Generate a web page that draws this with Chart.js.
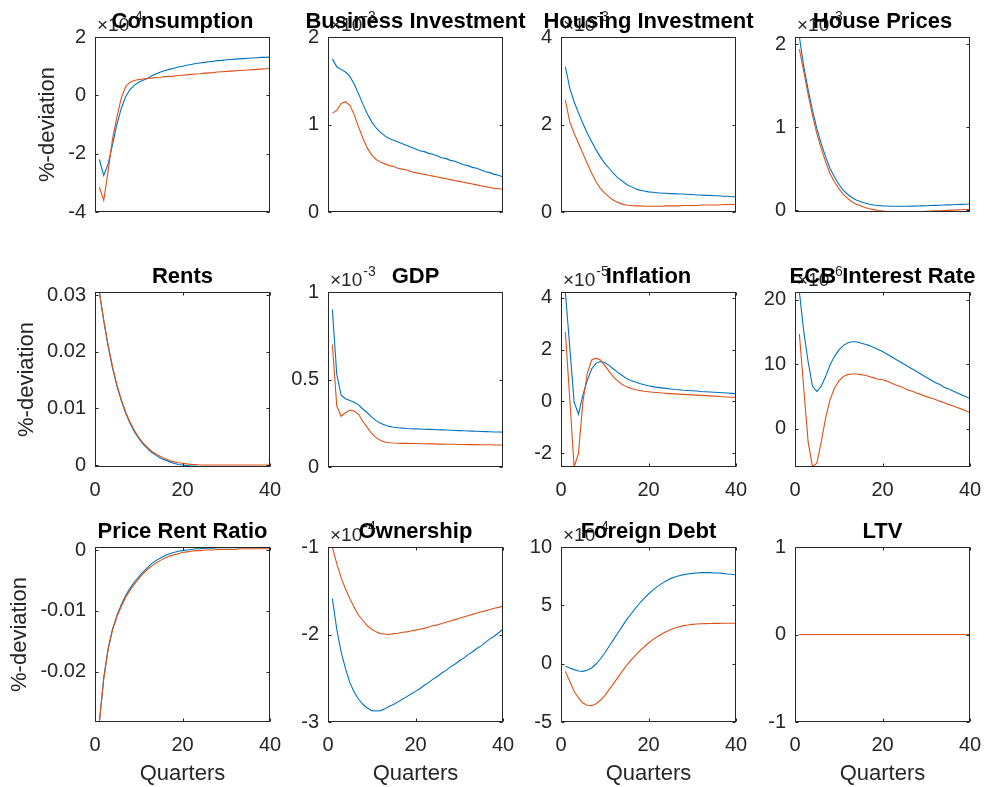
<!DOCTYPE html>
<html>
<head>
<meta charset="utf-8">
<script src="https://cdn.jsdelivr.net/npm/chart.js@4.4.0/dist/chart.umd.min.js"></script>
<style>
  body { margin: 0; background: #fff; }
  #fig { position: relative; width: 986px; height: 787px; overflow: hidden; background: #fff; }
  #fig canvas { position: absolute; }
</style>
</head>
<body>
<div id="fig"></div>
<script>
const quarters = [1,2,3,4,5,6,7,8,9,10,11,12,13,14,15,16,17,18,19,20,21,22,23,24,25,26,27,28,29,30,31,32,33,34,35,36,37,38,39,40];

// values are in the units shown on each axis (i.e. already multiplied by the x10^n factor)
const consumptionBlue = [-2.2,-2.75,-2.35,-1.7,-1.0,-0.45,-0.05,0.2,0.35,0.45,0.52,0.58,0.67,0.74,0.8,0.85,0.89,0.93,0.97,1.0,1.03,1.06,1.09,1.11,1.13,1.15,1.17,1.19,1.2,1.22,1.23,1.24,1.25,1.26,1.27,1.28,1.29,1.3,1.3,1.31];
const consumptionRed = [-3.15,-3.6,-2.6,-1.5,-0.75,-0.1,0.3,0.45,0.51,0.54,0.56,0.58,0.59,0.61,0.62,0.64,0.65,0.66,0.68,0.69,0.7,0.72,0.73,0.74,0.76,0.77,0.78,0.8,0.81,0.82,0.83,0.84,0.85,0.86,0.87,0.88,0.89,0.9,0.91,0.92];

const bizInvBlue = [1.75,1.66,1.63,1.6,1.55,1.46,1.35,1.23,1.12,1.03,0.96,0.91,0.87,0.84,0.82,0.8,0.78,0.76,0.74,0.72,0.7,0.69,0.67,0.66,0.64,0.62,0.61,0.59,0.58,0.56,0.54,0.53,0.51,0.5,0.48,0.46,0.45,0.43,0.42,0.4];
const bizInvRed = [1.13,1.16,1.24,1.26,1.22,1.11,0.97,0.84,0.73,0.65,0.6,0.57,0.55,0.53,0.52,0.5,0.49,0.48,0.46,0.45,0.44,0.43,0.42,0.41,0.4,0.39,0.38,0.37,0.36,0.35,0.34,0.33,0.32,0.31,0.3,0.29,0.28,0.27,0.265,0.26];

const houseInvBlue = [3.32,2.83,2.52,2.26,2.03,1.8,1.61,1.42,1.26,1.11,1.0,0.88,0.78,0.71,0.63,0.58,0.53,0.5,0.48,0.46,0.45,0.44,0.43,0.43,0.42,0.42,0.41,0.41,0.4,0.4,0.39,0.39,0.38,0.38,0.37,0.37,0.36,0.36,0.35,0.35];
const houseInvRed = [2.56,2.06,1.8,1.57,1.34,1.11,0.89,0.69,0.54,0.43,0.34,0.27,0.22,0.18,0.16,0.15,0.14,0.14,0.13,0.13,0.13,0.13,0.13,0.14,0.14,0.14,0.14,0.15,0.15,0.15,0.15,0.16,0.16,0.16,0.16,0.16,0.17,0.17,0.17,0.17];

const housePriceBlue = [2.085,1.73,1.45,1.2,0.98,0.8,0.64,0.5,0.4,0.31,0.24,0.19,0.15,0.12,0.1,0.085,0.07,0.06,0.055,0.05,0.048,0.046,0.045,0.045,0.045,0.046,0.047,0.048,0.05,0.052,0.054,0.056,0.058,0.06,0.062,0.064,0.066,0.068,0.07,0.072];
const housePriceRed = [1.94,1.67,1.39,1.14,0.92,0.74,0.58,0.44,0.34,0.26,0.19,0.14,0.1,0.07,0.05,0.03,0.015,0.005,-0.005,-0.012,-0.018,-0.021,-0.023,-0.024,-0.024,-0.023,-0.022,-0.02,-0.018,-0.016,-0.014,-0.011,-0.009,-0.006,-0.004,-0.001,0.002,0.004,0.006,0.008];

const rentsBlue = [0.0306,0.0255,0.021,0.0172,0.014,0.0114,0.0092,0.0074,0.0059,0.0047,0.0037,0.0029,0.0022,0.0017,0.0012,0.0009,0.0006,0.0003,0.0001,0,-0.0001,-0.0002,-0.0002,-0.0003,-0.0003,-0.0003,-0.0003,-0.0003,-0.0003,-0.0003,-0.0003,-0.0003,-0.0003,-0.0003,-0.0003,-0.0003,-0.0003,-0.0003,-0.0003,-0.0003];
const rentsRed = [0.0306,0.0256,0.0212,0.0174,0.0142,0.0116,0.0094,0.0076,0.0061,0.0049,0.0039,0.0031,0.0024,0.0019,0.0015,0.0011,0.0008,0.0006,0.0004,0.0003,0.0002,0.0001,0.0001,0,0,0,0,0,0,0,0,0,0,0,0,0,0,0,0,0];

const gdpBlue = [0.9,0.53,0.41,0.39,0.38,0.37,0.355,0.33,0.31,0.285,0.265,0.25,0.24,0.232,0.227,0.224,0.222,0.22,0.219,0.218,0.217,0.216,0.215,0.214,0.213,0.212,0.211,0.21,0.209,0.208,0.207,0.206,0.205,0.204,0.203,0.202,0.201,0.2,0.2,0.199];
const gdpRed = [0.7,0.35,0.29,0.31,0.325,0.32,0.3,0.26,0.225,0.19,0.168,0.152,0.143,0.139,0.137,0.136,0.135,0.135,0.134,0.134,0.133,0.133,0.132,0.132,0.131,0.131,0.13,0.13,0.13,0.129,0.129,0.128,0.128,0.128,0.127,0.127,0.127,0.126,0.126,0.126];

const inflationBlue = [4.22,2.1,-0.03,-0.5,0.25,0.8,1.25,1.47,1.54,1.5,1.39,1.25,1.12,1.0,0.88,0.8,0.75,0.69,0.64,0.6,0.57,0.54,0.52,0.5,0.48,0.46,0.45,0.43,0.42,0.41,0.4,0.38,0.37,0.36,0.35,0.34,0.33,0.32,0.31,0.3];
const inflationRed = [2.68,0.1,-2.54,-2.0,-0.03,1.07,1.6,1.67,1.6,1.39,1.16,0.94,0.78,0.65,0.56,0.5,0.45,0.42,0.39,0.37,0.35,0.34,0.32,0.31,0.3,0.29,0.28,0.27,0.26,0.25,0.24,0.23,0.22,0.21,0.2,0.19,0.18,0.17,0.16,0.15];

const ecbBlue = [21.2,15.1,10.4,6.6,5.8,6.6,8.1,9.9,11.2,12.2,12.9,13.3,13.5,13.5,13.3,13.1,12.9,12.6,12.3,12.0,11.6,11.2,10.8,10.4,10.0,9.6,9.2,8.8,8.4,8.0,7.6,7.2,6.9,6.5,6.2,5.9,5.6,5.3,5.0,4.7];
const ecbRed = [14.7,6.3,-2.0,-5.85,-5.3,-2.0,1.7,4.5,6.3,7.4,8.1,8.4,8.5,8.5,8.4,8.3,8.1,7.9,7.7,7.6,7.4,7.1,6.8,6.6,6.3,6.0,5.8,5.5,5.3,5.0,4.8,4.6,4.3,4.1,3.8,3.6,3.3,3.1,2.8,2.5];

const priceRentBlue = [-0.0283,-0.021,-0.0162,-0.013,-0.0108,-0.009,-0.0075,-0.0063,-0.0053,-0.0044,-0.0036,-0.0029,-0.0022,-0.0017,-0.0013,-0.0009,-0.0006,-0.0004,-0.0002,-0.0001,0,0.0001,0.0002,0.0002,0.0003,0.0003,0.0003,0.0004,0.0004,0.0004,0.0004,0.0004,0.0004,0.0005,0.0005,0.0005,0.0005,0.0005,0.0005,0.0005];
const priceRentRed = [-0.0283,-0.0212,-0.0164,-0.0132,-0.011,-0.0093,-0.0078,-0.0066,-0.0056,-0.0047,-0.0039,-0.0032,-0.0026,-0.0021,-0.0017,-0.0013,-0.001,-0.0008,-0.0006,-0.0004,-0.0003,-0.0002,-0.0001,-0.0001,0,0,0,0.0001,0.0001,0.0001,0.0001,0.0001,0.0002,0.0002,0.0002,0.0002,0.0002,0.0002,0.0002,0.0002];

const ownershipBlue = [-1.59,-1.94,-2.2,-2.39,-2.55,-2.66,-2.74,-2.8,-2.84,-2.87,-2.875,-2.87,-2.85,-2.82,-2.8,-2.77,-2.74,-2.71,-2.68,-2.65,-2.62,-2.58,-2.55,-2.51,-2.48,-2.44,-2.41,-2.37,-2.34,-2.3,-2.27,-2.23,-2.2,-2.16,-2.13,-2.09,-2.05,-2.02,-1.98,-1.94];
const ownershipRed = [-1.0,-1.19,-1.35,-1.48,-1.59,-1.69,-1.78,-1.84,-1.9,-1.94,-1.97,-1.99,-1.995,-2.0,-1.99,-1.985,-1.975,-1.97,-1.96,-1.95,-1.94,-1.93,-1.915,-1.9,-1.89,-1.875,-1.86,-1.845,-1.83,-1.815,-1.8,-1.785,-1.77,-1.755,-1.74,-1.73,-1.715,-1.7,-1.69,-1.675];

const debtBlue = [-0.23,-0.37,-0.51,-0.63,-0.66,-0.57,-0.37,-0.03,0.4,0.91,1.49,2.06,2.63,3.2,3.77,4.26,4.74,5.2,5.6,5.97,6.31,6.6,6.86,7.09,7.29,7.43,7.54,7.63,7.69,7.74,7.77,7.8,7.8,7.8,7.77,7.77,7.74,7.69,7.66,7.6];
const debtRed = [-0.66,-1.51,-2.37,-2.94,-3.37,-3.57,-3.6,-3.43,-3.14,-2.74,-2.23,-1.71,-1.17,-0.66,-0.14,0.31,0.71,1.09,1.43,1.77,2.06,2.31,2.54,2.74,2.91,3.06,3.17,3.26,3.31,3.37,3.4,3.42,3.43,3.44,3.45,3.45,3.46,3.46,3.46,3.46];

const ltvBlue = [0,0,0,0,0,0,0,0,0,0,0,0,0,0,0,0,0,0,0,0,0,0,0,0,0,0,0,0,0,0,0,0,0,0,0,0,0,0,0,0];
const ltvRed = [0,0,0,0,0,0,0,0,0,0,0,0,0,0,0,0,0,0,0,0,0,0,0,0,0,0,0,0,0,0,0,0,0,0,0,0,0,0,0,0];

const titles = ['Consumption','Business Investment','Housing Investment','House Prices',
                'Rents','GDP','Inflation','ECB Interest Rate',
                'Price Rent Ratio','Ownership','Foreign Debt','LTV'];
const exponents = [-4,-3,-3,-3, null,-3,-5,-6, null,-4,-4,null];
const yLimits = [[-4,2],[0,2],[0,4],[-0.024,2.085],
                 [-0.00035,0.0306],[0,1],[-2.54,4.23],[-5.9,21.2],
                 [-0.0283,0.0005],[-3,-1],[-5,10],[-1,1]];
const yTickValues = [[-4,-2,0,2],[0,1,2],[0,2,4],[0,1,2],
                     [0,0.01,0.02,0.03],[0,0.5,1],[-2,0,2,4],[0,10,20],
                     [-0.02,-0.01,0],[-3,-2,-1],[-5,0,5,10],[-1,0,1]];
const xTickValues = [[],[],[],[],
                     [0,20,40],[],[0,20,40],[0,20,40],
                     [0,20,40],[0,20,40],[0,20,40],[0,20,40]];
const blueSeries = [consumptionBlue,bizInvBlue,houseInvBlue,housePriceBlue,rentsBlue,gdpBlue,inflationBlue,ecbBlue,priceRentBlue,ownershipBlue,debtBlue,ltvBlue];
const redSeries = [consumptionRed,bizInvRed,houseInvRed,housePriceRed,rentsRed,gdpRed,inflationRed,ecbRed,priceRentRed,ownershipRed,debtRed,ltvRed];

const FONT = '"Liberation Sans", Arial, Helvetica, sans-serif';
const colLeft = [95, 328, 561, 795];
const rowTop = [37, 292, 547];
const AX = 175;
const ylabelPad = [35, 14, 7];

// box, inward ticks, title and x10^n factor, MATLAB style
const matlabFrame = {
  id: 'matlabFrame',
  afterDraw(chart, args, o) {
    const { ctx, chartArea: a, scales: { x, y } } = chart;
    const L = Math.round(a.left) + 0.5, R = Math.round(a.right) - 0.5;
    const T = Math.round(a.top) + 0.5, B = Math.round(a.bottom) - 0.5;
    ctx.save();
    ctx.strokeStyle = '#262626';
    ctx.lineWidth = 1;
    ctx.strokeRect(L, T, R - L, B - T);
    ctx.beginPath();
    y.ticks.forEach(t => {
      const p = Math.round(y.getPixelForValue(t.value)) + 0.5;
      ctx.moveTo(L, p); ctx.lineTo(L + 3, p);
      ctx.moveTo(R, p); ctx.lineTo(R - 3, p);
    });
    x.ticks.forEach(t => {
      const p = Math.round(x.getPixelForValue(t.value)) + 0.5;
      ctx.moveTo(p, B); ctx.lineTo(p, B - 3);
      ctx.moveTo(p, T); ctx.lineTo(p, T + 3);
    });
    ctx.stroke();

    if (o.exp !== null) {
      ctx.fillStyle = '#262626';
      ctx.textAlign = 'left';
      ctx.textBaseline = 'alphabetic';
      ctx.font = '19px ' + FONT;
      ctx.fillText('\u00d710', a.left + 2, a.top - 6);
      const w = ctx.measureText('\u00d710').width;
      ctx.font = '14px ' + FONT;
      ctx.fillText(String(o.exp), a.left + 3 + w, a.top - 16);
    }

    ctx.fillStyle = '#000';
    ctx.font = 'bold 22px ' + FONT;
    ctx.textAlign = 'center';
    ctx.textBaseline = 'alphabetic';
    ctx.fillText(o.title, (a.left + a.right) / 2, a.top - 9);
    ctx.restore();
  }
};

const fig = document.getElementById('fig');

titles.forEach((title, i) => {
  const row = Math.floor(i / 4), col = i % 4;
  const bottomH = row === 2 ? 65 : 40;
  const W = 95 + AX + 45, H = 40 + AX + bottomH;
  const canvas = document.createElement('canvas');
  canvas.width = W; canvas.height = H;
  canvas.style.left = (colLeft[col] - 95) + 'px';
  canvas.style.top = (rowTop[row] - 40) + 'px';
  fig.appendChild(canvas);

  const xt = xTickValues[i], yt = yTickValues[i];
  const toPoints = arr => quarters.map((q, k) => ({ x: q, y: arr[k] }));

  new Chart(canvas.getContext('2d'), {
    type: 'line',
    data: {
      datasets: [
        { data: toPoints(blueSeries[i]), borderColor: '#0072BD', borderWidth: 1.1, pointRadius: 0, tension: 0, order: 1 },
        { data: toPoints(redSeries[i]), borderColor: '#D95319', borderWidth: 1.1, pointRadius: 0, tension: 0, order: 0 }
      ]
    },
    options: {
      responsive: false,
      animation: false,
      devicePixelRatio: 1,
      layout: { padding: { left: 0, top: 40, right: 45, bottom: 0 } },
      plugins: {
        legend: { display: false },
        tooltip: { enabled: false },
        matlabFrame: { title: title, exp: exponents[i] }
      },
      scales: {
        x: {
          type: 'linear', min: 0, max: 40,
          grid: { display: false, drawTicks: false }, border: { display: false },
          afterBuildTicks: s => { s.ticks = xt.map(v => ({ value: v })); },
          afterFit: s => { s.height = bottomH; },
          ticks: { display: xt.length > 0, padding: 11, color: '#262626', maxRotation: 0, autoSkip: false,
                   font: { size: 20, family: FONT }, callback: v => String(v) },
          title: { display: row === 2, text: 'Quarters', color: '#262626',
                   font: { size: 22, family: FONT }, padding: { top: 0, bottom: 0 } }
        },
        y: {
          type: 'linear', min: yLimits[i][0], max: yLimits[i][1],
          grid: { display: false, drawTicks: false }, border: { display: false },
          afterBuildTicks: s => { s.ticks = yt.map(v => ({ value: v })); },
          afterFit: s => { s.width = 95; },
          ticks: { padding: 9, color: '#262626', autoSkip: false,
                   font: { size: 20, family: FONT }, callback: v => String(v) },
          title: { display: col === 0, text: '%-deviation', color: '#262626',
                   font: { size: 22, family: FONT }, padding: { top: ylabelPad[row], bottom: 0 } }
        }
      }
    },
    plugins: [matlabFrame]
  });
});
</script>
</body>
</html>
